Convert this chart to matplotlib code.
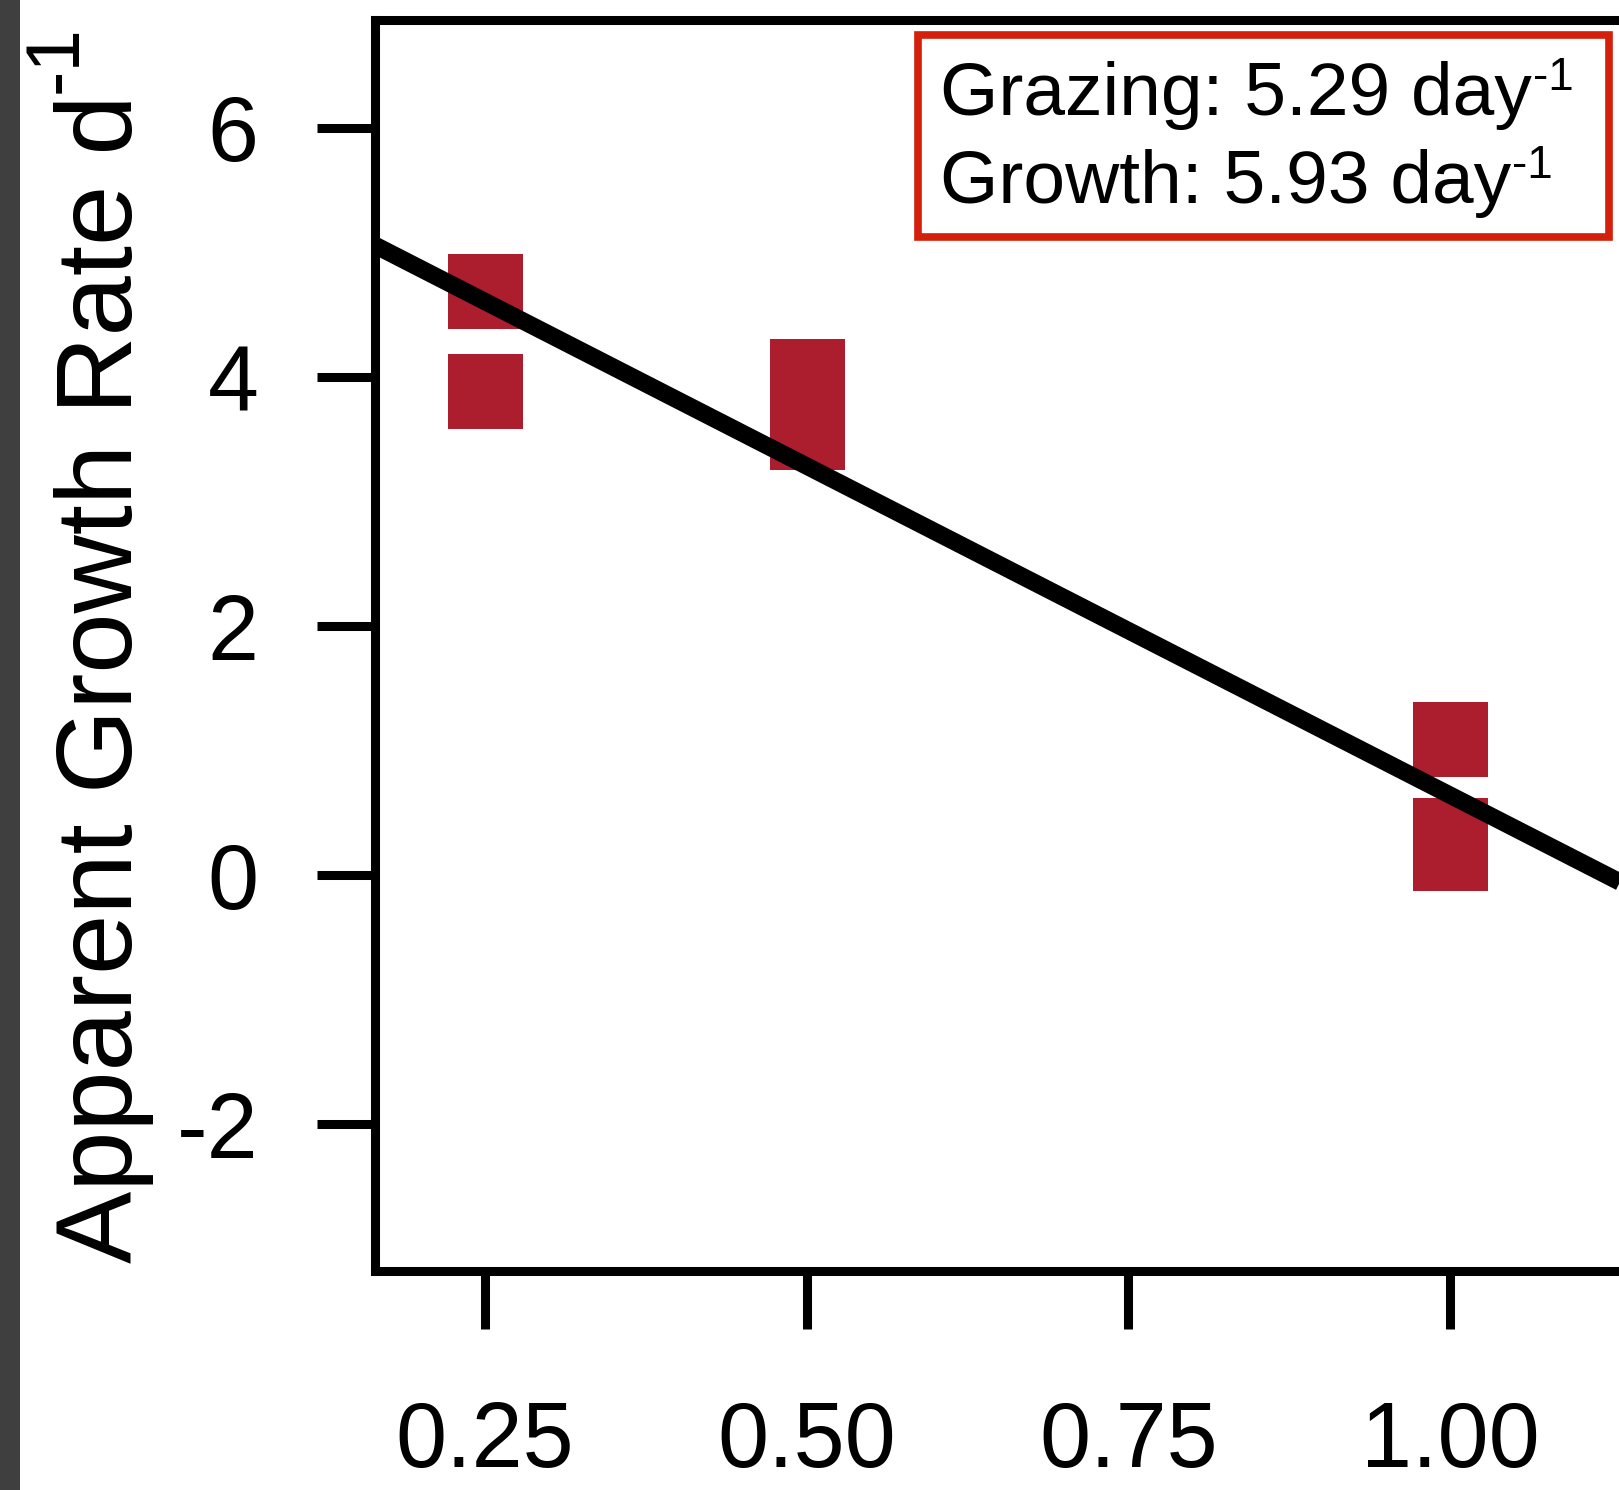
import matplotlib
matplotlib.use('Agg')
import matplotlib.pyplot as plt
from matplotlib.patches import Rectangle
import numpy as np

# ---- data ----
dilution = [0.25, 0.25, 0.50, 0.50, 1.00, 1.00, 1.00]
growth = [4.69, 3.89, 4.01, 3.56, 1.09, 0.32, 0.18]
grazing_rate = 5.29   # slope magnitude (day^-1)
growth_rate = 5.93    # intercept (day^-1)
xticks = [0.25, 0.50, 0.75, 1.00]
xticklabels = ['0.25', '0.50', '0.75', '1.00']
yticks = [-2, 0, 2, 4, 6]
yticklabels = ['-2', '0', '2', '4', '6']
ylabel_main = 'Apparent Growth Rate d'
sup = '-1'

plt.rcParams['font.family'] = ['Liberation Sans', 'DejaVu Sans']
plt.rcParams['axes.unicode_minus'] = False

W, H = 1619, 1490
fig = plt.figure(figsize=(W / 100, H / 100), dpi=100)
fig.patch.set_facecolor('white')

# dark strip at left edge
fig.patches.append(Rectangle((0, 0), 20 / W, 1, transform=fig.transFigure,
                             facecolor='#3f3f3f', edgecolor='none', zorder=-10))

ax_left, ax_right, ax_top, ax_bot = 375.0, 1708.0, 20.0, 1271.0
ax = fig.add_axes([ax_left / W, (H - ax_bot) / H, (ax_right - ax_left) / W, (ax_bot - ax_top) / H])
ax.set_xlim(0.1649, 1.2)
ax.set_ylim(-3.18, 6.867)

for s in ax.spines.values():
    s.set_linewidth(6.5)
    s.set_color('black')

ax.set_xticks(xticks)
ax.set_xticklabels(xticklabels)
ax.set_yticks(yticks)
ax.set_yticklabels(yticklabels)
ax.tick_params(axis='both', direction='out', length=42, width=6.5, labelsize=66, color='black')
ax.tick_params(axis='y', pad=42)
ax.tick_params(axis='x', pad=51)

# points
ax.plot(dilution, growth, linestyle='none', marker='s', markersize=54,
        color='#ac1e2e', markeredgewidth=0, zorder=2)

# regression line: y = growth - grazing * x
xs = np.array(ax.get_xlim())
ax.plot(xs, growth_rate - grazing_rate * xs, color='black', linewidth=12.5,
        solid_capstyle='butt', zorder=3)

fig.canvas.draw()
renderer = fig.canvas.get_renderer()

# y label with superscript
t = fig.text(132 / W, (H - 1263) / H, ylabel_main, rotation=90, rotation_mode='anchor',
             ha='left', va='baseline', fontsize=78)
ext = t.get_window_extent(renderer)
fig.text(77 / W, (ext.y1 + 1) / H, sup, rotation=90, rotation_mode='anchor',
         ha='left', va='baseline', fontsize=55)

# annotation box
fig.patches.append(Rectangle((917.5 / W, (H - 236.5) / H), 691 / W, 202 / H,
                             transform=fig.transFigure, facecolor='white',
                             edgecolor='#d41f0b', linewidth=5.5, zorder=5))
lines = [f'Grazing: {grazing_rate:.2f} day', f'Growth: {growth_rate:.2f} day']
baselines = [115, 203]
for txt, bl in zip(lines, baselines):
    tt = fig.text(940 / W, (H - bl) / H, txt, ha='left', va='baseline', fontsize=54, zorder=6)
    e = tt.get_window_extent(renderer)
    fig.text((e.x1 + 1) / W, (H - bl + 25) / H, sup, ha='left', va='baseline', fontsize=33, zorder=6)

fig.savefig('out.png', dpi=100)
